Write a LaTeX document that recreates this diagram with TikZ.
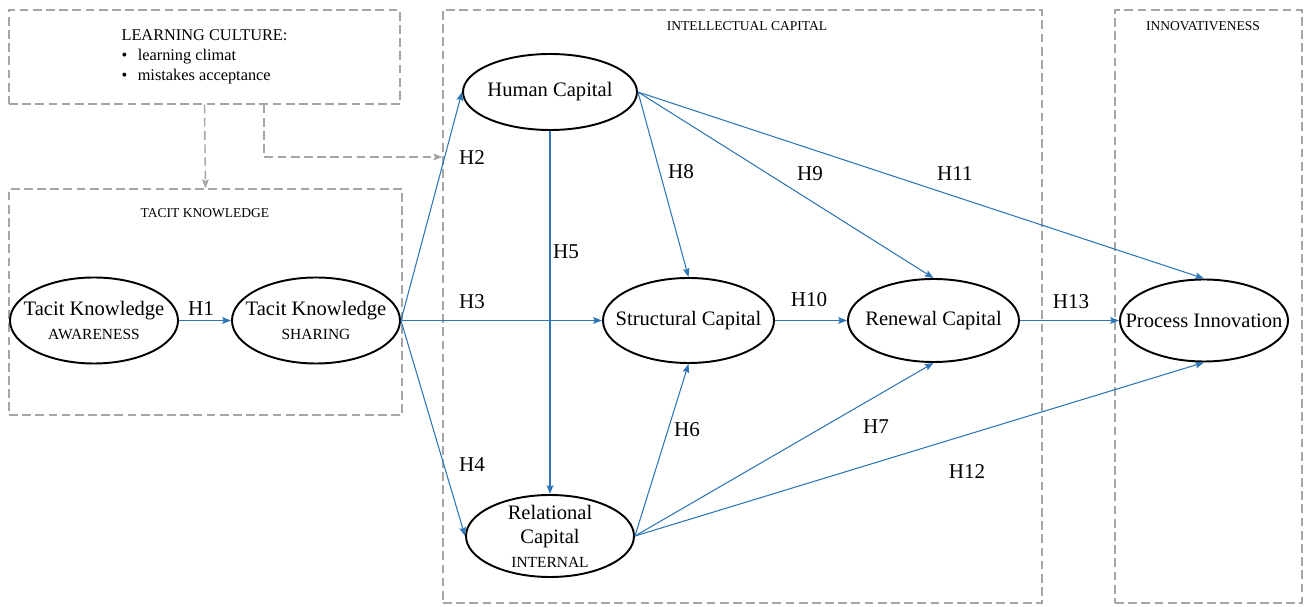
\documentclass[tikz,border=0pt]{standalone}
\usepackage{fontspec}
\setmainfont{Liberation Serif}
\usetikzlibrary{
	arrows.meta,
	shapes.geometric
}
\definecolor{pathblue}{RGB}{46,117,182}
\definecolor{boxgray}{RGB}{165,165,165}

\begin{document}
\begin{tikzpicture}[x=0.02cm, y=-0.02cm, >={Stealth[length=5pt, width=3.8pt, inset=0.8pt]},
    construct/.style={ellipse, draw=black, line width=1.1pt, inner xsep=-60pt, inner ysep=-30pt, align=center, font=\fontsize{11.7}{13.6}\selectfont},
    groupbox/.style={draw=boxgray, line width=0.8pt, dash pattern=on 5pt off 2.5pt, inner sep=0pt},
    grouptitle/.style={font=\fontsize{7.7}{9}\selectfont},
    hyp/.style={->, draw=pathblue, line width=0.6pt},
    hlabel/.style={font=\fontsize{12}{14}\selectfont},
    influence/.style={->, draw=boxgray, line width=0.8pt, dash pattern=on 5pt off 2.5pt}
]
    % Definitions
    \def \px{0.02cm}
    \def \sub{\fontsize{8.8}{10.5}\selectfont}
    \useasboundingbox (0,0) rectangle (1309,607);
    %%%
    %%% Group boxes
    %%%
    \node[groupbox, minimum width=391*\px, minimum height=94*\px, align=left,
          font=\fontsize{9.3}{11.3}\selectfont] (learn) at (204.5,57)
        {LEARNING CULTURE:\\ \textbullet\hspace{6pt}learning climat\\ \textbullet\hspace{6pt}mistakes acceptance};
    \node[groupbox, minimum width=393*\px, minimum height=226*\px] (tkbox) at (205.5,302) {};
    \node[groupbox, minimum width=599*\px, minimum height=593*\px] (icbox) at (742.5,306.5) {};
    \node[groupbox, minimum width=187*\px, minimum height=593*\px] (innobox) at (1208.5,306.5) {};
    % Titles
    \node[grouptitle] (tktitle) at (205,213) {TACIT KNOWLEDGE};
    \node[grouptitle] (ictitle) at (747,26) {INTELLECTUAL CAPITAL};
    \node[grouptitle] (innotitle) at (1203,26) {INNOVATIVENESS};
    % Learning culture influences
    \coordinate (lcturn) at (264,157);
    \draw[influence] (learn.south) -- (tkbox.north);
    \draw[influence] (learn.south -| lcturn) |- (icbox.west |- lcturn);
    %%%
    %%% Constructs
    %%%
    \node[construct, minimum width=168*\px, minimum height=86*\px] (tka) at (94,320.5)
        {Tacit Knowledge\\{\sub AWARENESS}};
    \node[construct, minimum width=168*\px, minimum height=86*\px] (tks) at (316,320.5)
        {Tacit Knowledge\\{\sub SHARING}};
    \node[construct, minimum width=174*\px, minimum height=76*\px] (hc) at (550,92) {Human Capital};
    \node[construct, minimum width=171*\px, minimum height=85*\px] (sc) at (688.5,320.5) {Structural Capital};
    \node[construct, minimum width=171*\px, minimum height=83*\px] (rc) at (933.5,320.5) {Renewal Capital};
    \node[construct, minimum width=168*\px, minimum height=82*\px] (rel) at (550,536)
        {Relational\\Capital\\{\sub INTERNAL}};
    \node[construct, minimum width=168*\px, minimum height=82*\px] (pi) at (1204,320.5) {Process Innovation};
    %%%
    %%% Hypotheses
    %%%
    \draw[hyp] (tka.east) -- (tks.west);
    \draw[hyp] (tks.east) -- (hc.west);
    \draw[hyp] (tks.east) -- (sc.west);
    \draw[hyp] (tks.east) -- (rel.west);
    \draw[hyp] (hc.south) -- (rel.north);
    \draw[hyp] (hc.east) -- (sc.north);
    \draw[hyp] (hc.east) -- (rc.north);
    \draw[hyp] (hc.east) -- (pi.north);
    \draw[hyp] (rel.east) -- (sc.south);
    \draw[hyp] (rel.east) -- (rc.south);
    \draw[hyp] (rel.east) -- (pi.south);
    \draw[hyp] (sc.east) -- (rc.west);
    \draw[hyp] (rc.east) -- (pi.west);
    % Labels
    \node[hlabel] (h1) at (201,309) {H1};
    \node[hlabel] (h2) at (472,158) {H2};
    \node[hlabel] (h3) at (472,302) {H3};
    \node[hlabel] (h4) at (472,465) {H4};
    \node[hlabel] (h5) at (566,252) {H5};
    \node[hlabel] (h6) at (687,430) {H6};
    \node[hlabel] (h7) at (876,427) {H7};
    \node[hlabel] (h8) at (681,172) {H8};
    \node[hlabel] (h9) at (810,174) {H9};
    \node[hlabel] (h10) at (809,300) {H10};
    \node[hlabel] (h11) at (955,174) {H11};
    \node[hlabel] (h12) at (967,472) {H12};
    \node[hlabel] (h13) at (1071,302) {H13};
\end{tikzpicture}
\end{document}
